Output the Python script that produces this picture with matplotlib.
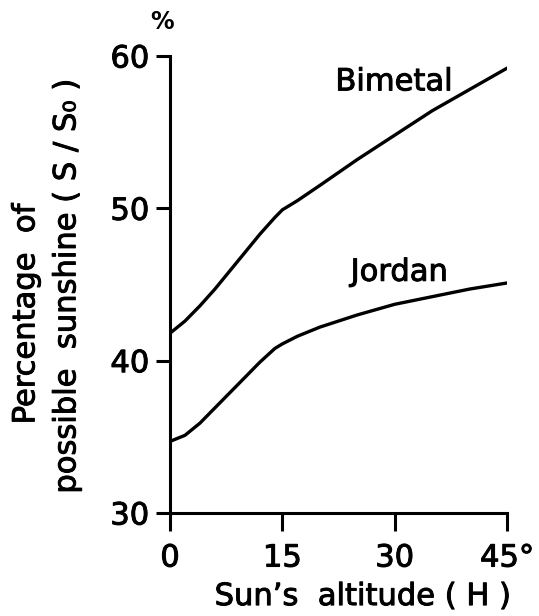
import matplotlib.pyplot as plt
import matplotlib.patheffects as pe

# values
altitude = [0, 2, 4, 6, 8, 10, 12, 14, 15, 17, 20, 25, 30, 35, 40, 45]
bimetal = [41.8, 42.6, 43.6, 44.7, 45.9, 47.1, 48.3, 49.4, 49.9, 50.5, 51.5, 53.2, 54.8, 56.4, 57.8, 59.2]
jordan = [34.7, 35.1, 35.9, 36.9, 37.9, 38.9, 39.9, 40.8, 41.1, 41.6, 42.2, 43.0, 43.7, 44.2, 44.7, 45.1]

xticks = [0, 15, 30, 45]
xticklabels = ["0", "15", "30", "45°"]
yticks = [30, 40, 50, 60]

# slightly heavier text, like the printed original
heavy = [pe.withStroke(linewidth=0.7, foreground="black")]

fig = plt.figure(figsize=(5.39, 6.16), dpi=100)
ax = fig.add_axes([0.3154, 0.1672, 0.6252, 0.7419])

ax.plot(altitude, bimetal, color="black", lw=2.4, solid_capstyle="round", solid_joinstyle="round")
ax.plot(altitude, jordan, color="black", lw=2.4, solid_capstyle="round", solid_joinstyle="round")

ax.set_xlim(0, 45)
ax.set_ylim(30, 60)
ax.set_xticks(xticks)
ax.set_xticklabels(xticklabels)
ax.set_yticks(yticks)

for s in ["top", "right"]:
    ax.spines[s].set_visible(False)
for s in ["left", "bottom"]:
    ax.spines[s].set_linewidth(2.2)

ax.tick_params(axis="x", direction="out", length=13, width=2.2, labelsize=22, pad=9)
ax.tick_params(axis="y", direction="out", length=10, width=2.2, labelsize=22, pad=5)
for lab in ax.get_xticklabels() + ax.get_yticklabels():
    lab.set_path_effects(heavy)

ax.text(29.9, 58.3, "Bimetal", fontsize=22, ha="center", va="center", path_effects=heavy)
ax.text(30.6, 45.8, "Jordan", fontsize=22, ha="center", va="center", path_effects=heavy)
ax.text(-1.0, 62.2, "%", fontsize=17, fontweight="bold", ha="center", va="center", clip_on=False)

fig.text(0.048, 0.49, "Percentage  of", fontsize=22, rotation=90, ha="center", va="center",
         path_effects=heavy)
fig.text(0.124, 0.535, "possible  sunshine ( S / S₀ )", fontsize=22, rotation=90,
         ha="center", va="center", path_effects=heavy)
fig.text(0.673, 0.008, "Sun’s  altitude ( H )", fontsize=22, ha="center", va="bottom",
         path_effects=heavy)

fig.savefig("out.png", dpi=100)
